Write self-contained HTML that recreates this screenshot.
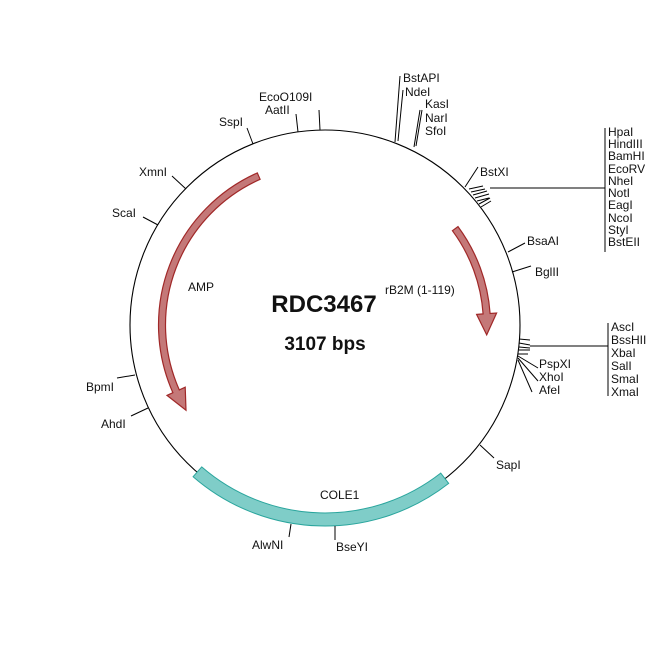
<!DOCTYPE html>
<html><head><meta charset="utf-8"><style>
body{margin:0;background:#fff}
svg text{font-family:"Liberation Sans",Arial,sans-serif;font-size:12px;fill:#111}
</style></head><body>
<svg id="s" width="650" height="650" viewBox="0 0 650 650" xmlns="http://www.w3.org/2000/svg">
<circle cx="325" cy="325" r="195" fill="none" stroke="#000" stroke-width="1.1"/>
<path id="cole" fill="#7fcdc8" stroke="#2aa59d" stroke-width="1"/>
<path id="amp" fill="#c47878" stroke="#a02828" stroke-width="1.2"/>
<path id="rb" fill="#c47878" stroke="#a02828" stroke-width="1.2"/>
<g stroke="#000" stroke-width="1" fill="none">
<line x1="320" y1="130" x2="319" y2="110"/>
<line x1="298" y1="132" x2="296" y2="114"/>
<line x1="253" y1="144" x2="247" y2="128"/>
<line x1="186" y1="189" x2="172" y2="176"/>
<line x1="158" y1="225" x2="143" y2="217"/>
<line x1="135" y1="375" x2="117" y2="378"/>
<line x1="148" y1="408" x2="131" y2="416"/>
<line x1="291" y1="524" x2="289" y2="537"/>
<line x1="335" y1="526" x2="335" y2="540"/>
<line x1="480" y1="445" x2="494" y2="458"/>
<line x1="512" y1="272" x2="531" y2="266"/>
<line x1="508" y1="252" x2="525" y2="243"/>
<line x1="465" y1="187" x2="478" y2="167"/>
<line x1="395" y1="142" x2="400" y2="76"/>
<line x1="398" y1="141" x2="403" y2="90"/>
<line x1="414" y1="147" x2="420" y2="110"/>
<line x1="416" y1="146" x2="422" y2="110"/>
<line x1="469" y1="189" x2="483" y2="186"/>
<line x1="471" y1="192" x2="485" y2="189"/>
<line x1="473" y1="195" x2="487" y2="191"/>
<line x1="475" y1="198" x2="489" y2="194"/>
<line x1="477" y1="201" x2="489" y2="198"/>
<line x1="479" y1="204" x2="490" y2="198"/>
<line x1="481" y1="207" x2="491" y2="201"/>
<line x1="490" y1="188" x2="605" y2="188"/>
<line x1="605" y1="128" x2="605" y2="252"/>
<line x1="519" y1="339" x2="530" y2="340"/>
<line x1="519" y1="343" x2="530" y2="345"/>
<line x1="519" y1="347" x2="530" y2="348"/>
<line x1="519" y1="350" x2="530" y2="350"/>
<line x1="518" y1="354" x2="528" y2="354"/>
<line x1="530" y1="346" x2="608" y2="346"/>
<line x1="608" y1="323" x2="608" y2="396"/>
<line x1="518" y1="356" x2="538" y2="368"/>
<line x1="518" y1="358" x2="538" y2="381"/>
<line x1="518" y1="360" x2="532" y2="392"/>
</g>
<text x="259" y="101">EcoO109I</text>
<text x="265" y="114">AatII</text>
<text x="219" y="126">SspI</text>
<text x="139" y="176">XmnI</text>
<text x="112" y="217">ScaI</text>
<text x="86" y="391">BpmI</text>
<text x="101" y="428">AhdI</text>
<text x="252" y="549">AlwNI</text>
<text x="336" y="551">BseYI</text>
<text x="496" y="469">SapI</text>
<text x="535" y="276">BglII</text>
<text x="527" y="245">BsaAI</text>
<text x="480" y="176">BstXI</text>
<text x="403" y="82">BstAPI</text>
<text x="405" y="96">NdeI</text>
<text x="425" y="108">KasI</text>
<text x="425" y="122">NarI</text>
<text x="425" y="135">SfoI</text>
<text x="608" y="136">HpaI</text>
<text x="608" y="148">HindIII</text>
<text x="608" y="160">BamHI</text>
<text x="608" y="173">EcoRV</text>
<text x="608" y="185">NheI</text>
<text x="608" y="197">NotI</text>
<text x="608" y="209">EagI</text>
<text x="608" y="222">NcoI</text>
<text x="608" y="234">StyI</text>
<text x="608" y="246">BstEII</text>
<text x="611" y="331">AscI</text>
<text x="611" y="344">BssHII</text>
<text x="611" y="357">XbaI</text>
<text x="611" y="370">SalI</text>
<text x="611" y="383">SmaI</text>
<text x="611" y="396">XmaI</text>
<text x="539" y="368">PspXI</text>
<text x="539" y="381">XhoI</text>
<text x="539" y="394">AfeI</text>
<text x="188" y="291">AMP</text>
<text x="385" y="294">rB2M (1-119)</text>
<text x="320" y="499">COLE1</text>
<text x="324" y="312" text-anchor="middle" style="font-size:24px;font-weight:bold">RDC3467</text>
<text x="325" y="350" text-anchor="middle" style="font-size:19px;font-weight:bold">3107 bps</text>
</svg>
<script>
var C=325;
function P(r,a){a=a*Math.PI/180;return (C+r*Math.cos(a)).toFixed(1)+","+(C+r*Math.sin(a)).toFixed(1);}
function band(r1,r2,a1,a2){var l=Math.abs(a2-a1)>180?1:0,sw=a2>a1?1:0;
return "M"+P(r2,a1)+"A"+r2+","+r2+" 0 "+l+" "+sw+" "+P(r2,a2)+"L"+P(r1,a2)+"A"+r1+","+r1+" 0 "+l+" "+(1-sw)+" "+P(r1,a1)+"Z";}
function arrow(r,w,hw,a1,a2,tip){var sw=a2>a1?1:0,r1=r-w/2,r2=r+w/2;
return "M"+P(r2,a1)+"A"+r2+","+r2+" 0 0 "+sw+" "+P(r2,a2)+"L"+P(r+hw,a2)+"L"+P(r,tip)+"L"+P(r-hw,a2)+"L"+P(r1,a2)+"A"+r1+","+r1+" 0 0 "+(1-sw)+" "+P(r1,a1)+"Z";}
document.getElementById("cole").setAttribute("d",band(188,201,52,131));
document.getElementById("amp").setAttribute("d",arrow(163,7,10,246,156,148.5));
document.getElementById("rb").setAttribute("d",arrow(162,7,10,-36.5,-4,3.5));
</script>
</body></html>
